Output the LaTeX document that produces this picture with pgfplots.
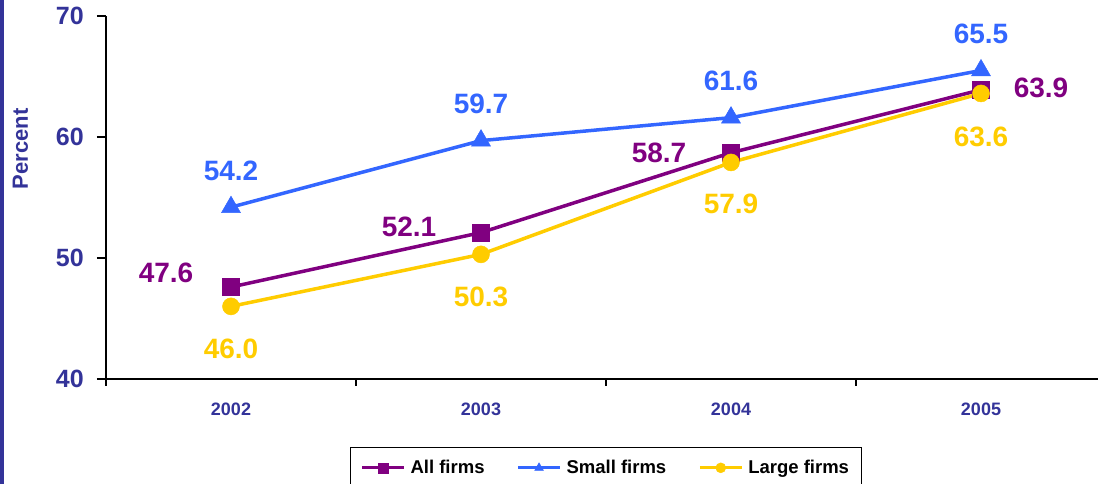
\documentclass[border=0pt]{standalone}
\usepackage{pgfplots}
\pgfplotsset{compat=1.18}
\usepackage{fontspec}
\setmainfont{Liberation Sans}
\definecolor{navy}{HTML}{333399}
\definecolor{cpurple}{HTML}{800080}
\definecolor{cblue}{HTML}{3366FF}
\definecolor{cyellow}{HTML}{FFCC00}
\begin{document}
\begin{tikzpicture}[x=1pt,y=1pt]
\path[use as bounding box] (0,0) rectangle (1100,484);
\fill[navy] (0,0) rectangle (4,484);
\begin{axis}[
  at={(106pt,105pt)}, anchor=south west,
  scale only axis, width=992pt, height=363pt,
  xmin=-0.5, xmax=3.468, ymin=40, ymax=70,
  axis x line*=bottom, axis y line*=left,
  axis line style={line width=1.3pt, black, -},
  xtick={0,1,2,3},
  xticklabels={2002,2003,2004,2005},
  major x tick style={draw=none},
  minor xtick={-0.5,0.5,1.5,2.5},
  minor x tick style={line width=1.3pt, black},
  minor tick length=7pt,
  ytick={40,50,60,70},
  y tick style={line width=1.3pt, black},
  major tick length=9pt,
  tick align=outside,
  /pgf/number format/assume math mode=true,
  yticklabel style={font=\fontsize{25}{28}\selectfont\bfseries, text=navy, inner sep=0pt, xshift=-13pt},
  xticklabel style={font=\fontsize{18}{20}\selectfont\bfseries, text=navy, inner sep=0pt, yshift=-15pt},
  ylabel={Percent},
  ylabel style={font=\fontsize{22}{24}\selectfont\bfseries, text=navy, at={(axis description cs:-0.0862,0.634)}, anchor=center, rotate=0},
  clip=false,
  nodes near coords={\pgfmathprintnumber[fixed,fixed zerofill,precision=1]{\pgfplotspointmeta}},
  point meta=y,
  visualization depends on={\thisrow{dx}\as\mydx},
  visualization depends on={\thisrow{dy}\as\mydy},
  nodes near coords style={anchor=center, inner sep=0pt, xshift=\mydx pt, yshift=\mydy pt, font=\fontsize{28}{30}\selectfont\bfseries},
  legend columns=3,
  legend style={at={(axis description cs:0.246,-0.187)}, anchor=north west,
    draw=black, line width=1pt, font=\fontsize{18.5}{20}\selectfont\bfseries,
    inner xsep=10pt, inner ysep=11pt,
    /tikz/every odd column/.append style={column sep=3pt},
    /tikz/every even column/.append style={column sep=30pt}},
  legend image code/.code={\draw[#1, mark size=5pt, line width=3pt, mark repeat=2, mark phase=2] plot coordinates {(0pt,0pt) (21pt,0pt) (42pt,0pt)};},
]
\addplot[color=cpurple, line width=3.5pt, mark=square*, mark size=8.5pt, mark options={solid, line width=0.5pt}, nodes near coords style={text=cpurple}]
  table[x=x,y=y] {
x y dx dy
0 47.6 -65 14
1 52.1 -72 6
2 58.7 -72 0
3 63.9 60 2
};
\addlegendentry{All firms}
\addplot[color=cblue, line width=3.5pt, mark=triangle*, mark size=11pt, mark options={solid, line width=0.5pt}, nodes near coords style={text=cblue}]
  table[x=x,y=y] {
x y dx dy
0 54.2 0 36
1 59.7 0 37
2 61.6 0 37
3 65.5 0 37
};
\addlegendentry{Small firms}
\addplot[color=cyellow, line width=3.5pt, mark=*, mark size=8.5pt, mark options={solid, line width=0.5pt}, nodes near coords style={text=cyellow}]
  table[x=x,y=y] {
x y dx dy
0 46.0 0 -42
1 50.3 0 -43
2 57.9 0 -41
3 63.6 0 -43
};
\addlegendentry{Large firms}
\end{axis}
\end{tikzpicture}
\end{document}
